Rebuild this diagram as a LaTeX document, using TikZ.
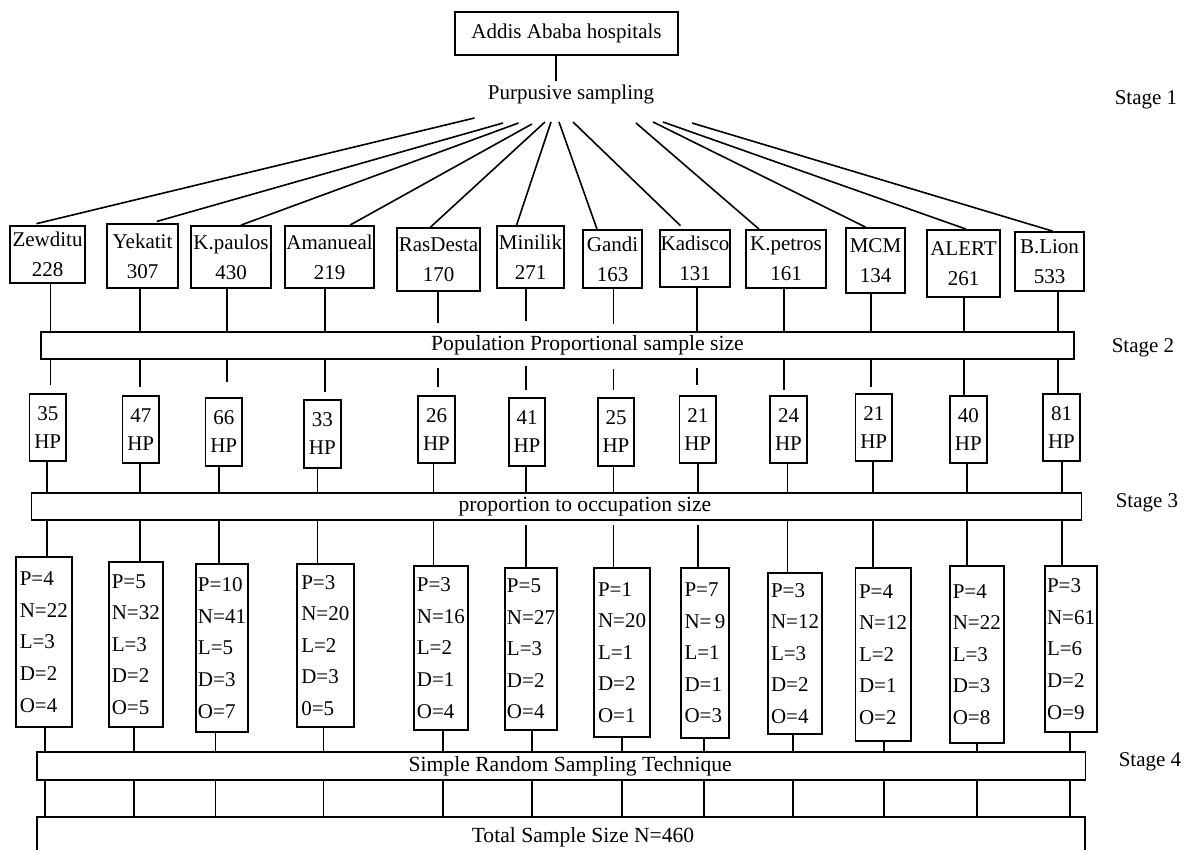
\documentclass[tikz,border=0pt]{standalone}
\usepackage{fontspec}
\setmainfont{Liberation Serif}
\begin{document}
\begin{tikzpicture}[x=0.5pt,y=-0.5pt,
  corners/.code args={#1/#2/#3/#4}{%
    \pgfmathsetmacro\cxx{(#1+#3)/2}\pgfmathsetmacro\cyy{(#2+#4)/2}%
    \pgfmathsetmacro\ww{(#3-#1)/2}\pgfmathsetmacro\hh{(#4-#2)/2}%
    \edef\tmpkeys{\noexpand\tikzset{minimum width=\ww pt, minimum height=\hh pt, at={(\cxx,\cyy)}}}\tmpkeys},
  box/.style={draw, line width=0.9pt, inner sep=0pt, align=center},
  hosp/.style={box, font=\fontsize{10.5}{15}\selectfont},
  hpbox/.style={box, font=\fontsize{10.5}{14}\selectfont},
  catbox/.style={box, align=left, font=\fontsize{10.5}{15.8}\selectfont},
  bar/.style={draw, line width=0.9pt, inner sep=0pt},
  bartext/.style={font=\fontsize{10.8}{13}\selectfont, inner sep=0pt},
  link/.style={line width=0.8pt},
  stage/.style={font=\fontsize{10.5}{13}\selectfont}]
\useasboundingbox (0,0) rectangle (1185,850);

% top
\node[box, font=\fontsize{10.5}{13}\selectfont, corners=455/12/678/55] (top) {Addis Ababa hospitals};
\node[font=\fontsize{10.5}{13}\selectfont, inner sep=2pt, anchor=base] (purp) at (571,100) {Purpusive sampling};
\coordinate (v) at (556,0);
\draw[link] (top.south -| v) -- (purp.north -| v);

% stages
\node[stage] (st1) at (1146,100) {Stage 1};
\node[stage] (st2) at (1143,348) {Stage 2};
\node[stage] (st3) at (1147,503) {Stage 3};
\node[stage] (st4) at (1150,762) {Stage 4};

% hospitals
\foreach \i/\a/\b/\c/\d/\n/\m in {
  1/10/226/85/283/Zewditu/228,
  2/107/224/178/288/Yekatit/307,
  3/191/226/271/288/K.paulos/430,
  4/285/226/374/288/Amanueal/219,
  5/397/228/480/291/RasDesta/170,
  6/497/226/564/288/Minilik/271,
  7/583/230/642/288/Gandi/163,
  8/660/230/730/287/Kadisco/131,
  9/746/230/826/288/K.petros/161,
  10/846/228/905/293/MCM/134,
  11/927/230/1000/297/ALERT/261,
  12/1015/232/1084/291/B.Lion/533}
  \node[hosp, corners=\a/\b/\c/\d] (h\i) {\n\\\m};

% fan lines
\foreach \i/\sx/\sy/\ex/\g in {
  1/474.5/118/30.6/3, 2/503/123/151/3, 3/518.5/123/241/0, 4/532/124/350/0,
  5/545/122/430.5/0, 6/551/122/516.6/0, 7/559/122/597/0, 8/573/122/684/2.5,
  9/636/123/759/0, 10/653/122/865.5/0, 11/663/122/966/0, 12/692/123/1052.6/0} {
  \coordinate (s\i) at (\sx,\sy);
  \coordinate (e\i) at (\ex,0);
  \draw[link, shorten >=\g pt] (s\i) -- (h\i.north -| e\i);
}

% bars
\node[bar, corners=41/332/1074/359, label={[bartext, xshift=15pt]center:Population Proportional sample size}] (pop) {};
\node[bar, corners=31.4/493.3/1081.5/520, label={[bartext, xshift=14.25pt]center:proportion to occupation size}] (prop) {};
\node[bar, corners=37/751.7/1085.4/780, label={[bartext, xshift=4.5pt]center:Simple Random Sampling Technique}] (srs) {};
\node[bar, corners=37/817.3/1085/858, label={[bartext, xshift=11pt]center:Total Sample Size N=460}] (total) {};

% HP boxes
\foreach \i/\a/\b/\c/\d/\n in {
  1/29.5/394/66/461/35, 2/122.5/396/159/463/47, 3/205.5/398/242/466/66,
  4/304/400/340.6/468/33, 5/418/396/455/463/26, 6/509/398/545/466/41,
  7/598/398/634/466/25, 8/679.5/396/716/463/21, 9/770/396/807/463/24,
  10/855.5/394/892/461/21, 11/950/396/986.6/463/40, 12/1043/394/1080/461/81}
  \node[hpbox, corners=\a/\b/\c/\d] (hp\i) {\n\\HP};

% category boxes
\node[catbox, corners=16/557/71.6/727] (d1) {P=4\\N=22\\L=3\\D=2\\O=4};
\node[catbox, corners=109/562/162.6/727] (d2) {P=5\\N=32\\L=3\\D=2\\O=5};
\node[catbox, corners=196/564/248/732] (d3) {P=10\\N=41\\L=5\\D=3\\O=7};
\node[catbox, corners=296.6/564/354/727] (d4) {P=3\\N=20\\L=2\\D=3\\0=5};
\node[catbox, corners=414/566/467.7/730] (d5) {P=3\\N=16\\L=2\\D=1\\O=4};
\node[catbox, corners=505/568/557/730] (d6) {P=5\\N=27\\L=3\\D=2\\O=4};
\node[catbox, corners=594/568/650/737] (d7) {P=1\\N=20\\L=1\\D=2\\O=1};
\node[catbox, corners=681/568/729/738] (d8) {P=7\\N=\,9\\L=1\\D=1\\O=3};
\node[catbox, corners=768/573/822/734] (d9) {P=3\\N=12\\L=3\\D=2\\O=4};
\node[catbox, corners=855.5/568/910.6/741] (d10) {P=4\\N=12\\L=2\\D=1\\O=2};
\node[catbox, corners=950/566/1003.6/743] (d11) {P=4\\N=22\\L=3\\D=3\\O=8};
\node[catbox, corners=1045/566/1097/732] (d12) {P=3\\N=61\\L=6\\D=2\\O=9};

% vertical connectors
\foreach \i/\xa/\xb/\xc/\ga/\gb/\gc/\gd in {
  1/50.5/46.7/44.8/0/0/4/0,
  2/140/140/134/0/0/4/0,
  3/227/219/215.5/0/0/7.5/0,
  4/325/317.6/323.4/0/0/3.5/0,
  5/438/433.6/443/4/4/4/0,
  6/526/526/532/5/3/3.5/2,
  7/613.5/613.6/622/3.5/4.5/3.5/2,
  8/697/698/704/0/4/5/2,
  9/784/787.6/793/0/0/2.5/0,
  10/871/873/884/0/0/3/0,
  11/964/967/977/0/0/0/0,
  12/1058/1062/1070/0/0/0/0} {
  \coordinate (xa\i) at (\xa,0);
  \coordinate (xb\i) at (\xb,0);
  \coordinate (xc\i) at (\xc,0);
  \draw[link, shorten >=\ga pt] (h\i.south -| xa\i) -- (pop.north -| xa\i);
  \draw[link, shorten <=\gb pt, shorten >=\gc pt] (pop.south -| xa\i) -- (hp\i.north -| xa\i);
  \draw[link] (hp\i.south -| xb\i) -- (prop.north -| xb\i);
  \draw[link, shorten <=\gd pt] (prop.south -| xb\i) -- (d\i.north -| xb\i);
  \draw[link] (d\i.south -| xc\i) -- (srs.north -| xc\i);
  \draw[link] (srs.south -| xc\i) -- (total.north -| xc\i);
}
\end{tikzpicture}
\end{document}
